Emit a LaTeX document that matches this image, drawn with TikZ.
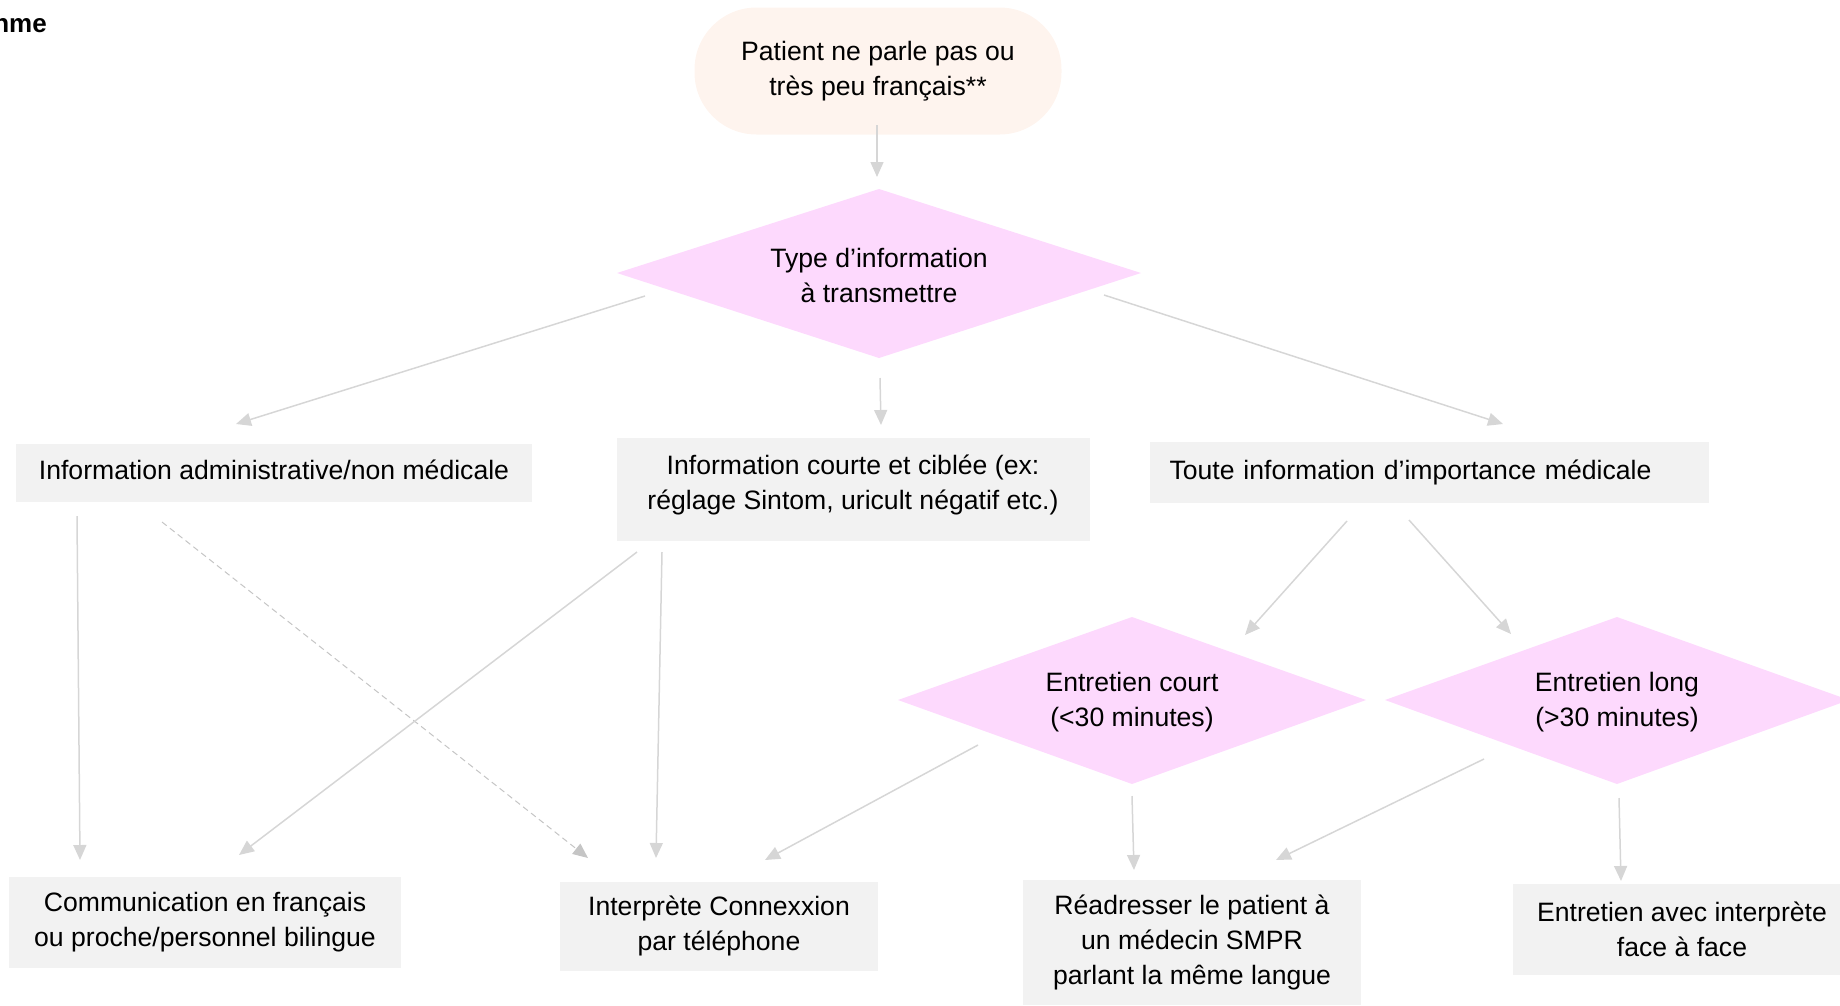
\documentclass[tikz,border=0pt]{standalone}
\usepackage{fontspec}
\setmainfont{Liberation Sans}
\usetikzlibrary{arrows.meta}
\definecolor{peach}{HTML}{FEF4EE}
\definecolor{pinkd}{HTML}{FDD9FD}
\definecolor{boxg}{HTML}{F2F2F2}
\definecolor{arrg}{HTML}{D6D6D6}
\begin{document}
\begin{tikzpicture}[x=1pt,y=-1pt,
  every node/.style={font=\fontsize{26.6}{35}\selectfont, inner sep=0pt, text=black},
  startbox/.style={fill=peach, rounded corners=62pt, minimum width=367pt, minimum height=127pt, align=center},
  decide/.style={align=center},
  diamfill/.style={fill=pinkd},
  infobox/.style={fill=boxg, align=center},
  conn/.style={arrg, line width=1.5pt, -{Triangle[length=15pt,width=13pt]}},
  dconn/.style={arrg!80!gray, line width=1pt, dash pattern=on 6pt off 4pt, -{Triangle[length=15pt,width=13pt]}}
]
\useasboundingbox (0,0) rectangle (1840,1005);
\node[font=\fontsize{26}{30}\selectfont\bfseries, anchor=base east] (title) at (47,32) {nme};

\node[startbox] (start) at (878,71) {Patient ne parle pas ou\\très peu français**};

% decision diamonds
\fill[diamfill] (617,273) -- (879,189) -- (1141,273) -- (879,358) -- cycle;
\node[decide] (d1) at (879,275) {Type d’information\\à transmettre};
\fill[diamfill] (898,700) -- (1132,617) -- (1366,700) -- (1132,784) -- cycle;
\node[decide] (d2) at (1132,702) {Entretien court\\(<30 minutes)};
\fill[diamfill] (1385,700) -- (1617,617) -- (1849,700) -- (1617,784) -- cycle;
\node[decide] (d3) at (1617,702) {Entretien long\\(>30 minutes)};

\node[infobox, minimum width=516pt, minimum height=58pt] (A) at (274,473) {\raisebox{3pt}[\height][\depth]{Information administrative/non médicale}};
\node[infobox, minimum width=473pt, minimum height=103pt] (B) at (853,489) {\raisebox{4pt}[\height][\depth]{\begin{tabular}{@{}c@{}}Information courte et ciblée (ex:\\réglage Sintom, uricult négatif etc.)\end{tabular}}};
\node[fill=boxg, minimum width=559pt, minimum height=61pt, text width=519pt, align=left] (C) at (1429,472) {Toute information d’importance médicale};
\node[infobox, minimum width=392pt, minimum height=91pt] (D) at (205,922) {Communication en français\\ou proche/personnel bilingue};
\node[infobox, minimum width=318pt, minimum height=89pt] (E) at (719,926) {Interprète Connexxion\\par téléphone};
\node[infobox, minimum width=338pt, minimum height=125pt] (F) at (1192,942) {Réadresser le patient à\\un médecin SMPR\\parlant la même langue};
\node[infobox, minimum width=327pt, minimum height=91pt] (G) at (1676,929) {\hspace*{12pt}Entretien avec interprète\\\hspace*{12pt}face à face};

% connector end points
\coordinate (s0) at (877,125); \coordinate (e0) at (877,177);
\coordinate (s1) at (645,296); \coordinate (e1) at (236,424);
\coordinate (s2) at (880,378); \coordinate (e2) at (881,425);
\coordinate (s3) at (1104,295); \coordinate (e3) at (1503,424);
\coordinate (s4) at (77,516); \coordinate (e4) at (80,860);
\coordinate (s5) at (162,522); \coordinate (e5) at (588,858);
\coordinate (s6) at (637,552); \coordinate (e6) at (239,855);
\coordinate (s7) at (662,552); \coordinate (e7) at (656,858);
\coordinate (s8) at (1347,521); \coordinate (e8) at (1245,635);
\coordinate (s9) at (1409,520); \coordinate (e9) at (1511,634);
\coordinate (s10) at (978,745); \coordinate (e10) at (765,860);
\coordinate (s11) at (1132,796); \coordinate (e11) at (1134,870);
\coordinate (s12) at (1484,759); \coordinate (e12) at (1276,860);
\coordinate (s13) at (1619,798); \coordinate (e13) at (1621,881);

\draw[conn] (s0) -- (e0);
\draw[conn] (s1) -- (e1);
\draw[conn] (s2) -- (e2);
\draw[conn] (s3) -- (e3);
\draw[conn] (s4) -- (e4);
\draw[dconn] (s5) -- (e5);
\draw[conn] (s6) -- (e6);
\draw[conn] (s7) -- (e7);
\draw[conn] (s8) -- (e8);
\draw[conn] (s9) -- (e9);
\draw[conn] (s10) -- (e10);
\draw[conn] (s11) -- (e11);
\draw[conn] (s12) -- (e12);
\draw[conn] (s13) -- (e13);
\end{tikzpicture}
\end{document}
